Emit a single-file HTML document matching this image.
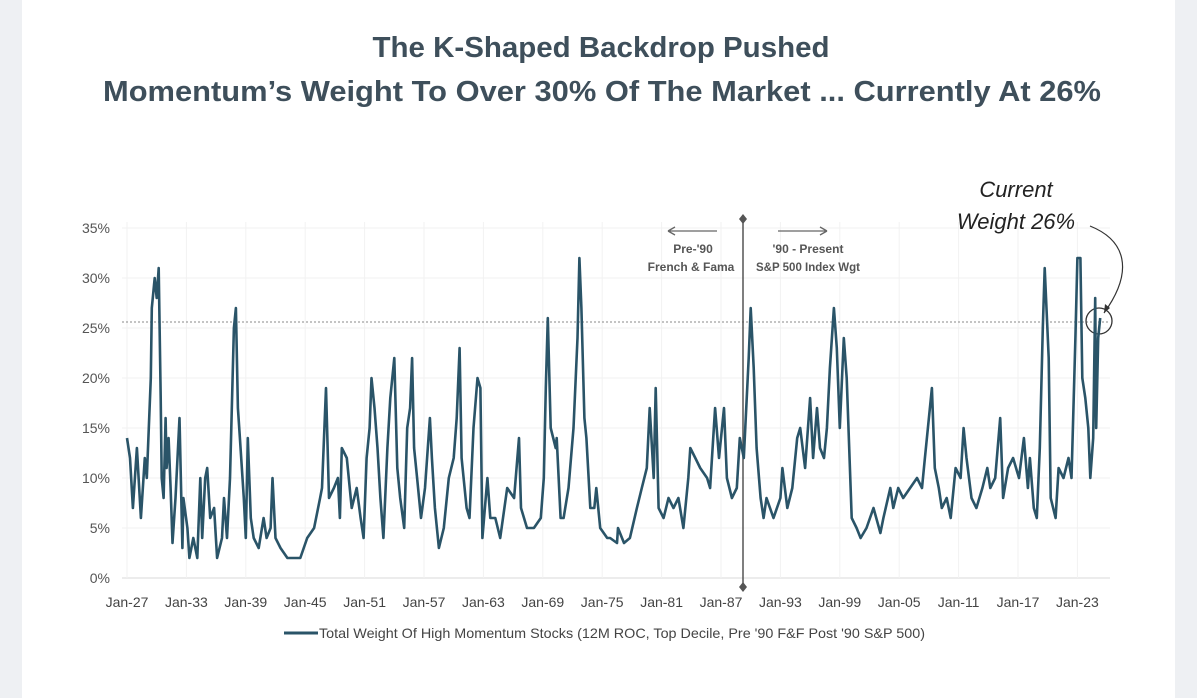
<!DOCTYPE html>
<html><head><meta charset="utf-8"><style>
body{margin:0;background:#eef0f3;}
#card{position:absolute;left:22px;top:0;width:1153px;height:698px;background:#fff;}
svg{position:absolute;left:0;top:0}
</style></head><body>
<div id="card"></div>
<svg id="c" width="1197" height="698">
<text x="601" y="57" text-anchor="middle" textLength="457" lengthAdjust="spacingAndGlyphs" font-family="Liberation Sans, sans-serif" font-weight="bold" font-size="29" fill="#3e4f5b">The K-Shaped Backdrop Pushed</text>
<text x="602" y="101" text-anchor="middle" textLength="998" lengthAdjust="spacingAndGlyphs" font-family="Liberation Sans, sans-serif" font-weight="bold" font-size="29" fill="#3e4f5b">Momentum’s Weight To Over 30% Of The Market ... Currently At 26%</text>
<g id="grid"></g><g id="yt"></g><g id="xt"></g>
<line x1="122" y1="322" x2="1110" y2="322" stroke="#888" stroke-width="1" stroke-dasharray="2,2"/>
<line x1="743" y1="219" x2="743" y2="587" stroke="#555" stroke-width="1.5"/>
<path d="M743 214 L747 219 L743 224 L739 219Z M743 582 L747 587 L743 592 L739 587Z" fill="#555"/>
<text x="693" y="253" text-anchor="middle" font-family="Liberation Sans, sans-serif" font-size="12" font-weight="bold" fill="#555">Pre-'90</text>
<text x="691" y="271" text-anchor="middle" font-family="Liberation Sans, sans-serif" font-size="12" font-weight="bold" fill="#555">French &amp; Fama</text>
<text x="808" y="253" text-anchor="middle" font-family="Liberation Sans, sans-serif" font-size="12" font-weight="bold" fill="#555">'90 - Present</text>
<text x="808" y="271" text-anchor="middle" font-family="Liberation Sans, sans-serif" font-size="11.5" font-weight="bold" fill="#555">S&amp;P 500 Index Wgt</text>
<path d="M668 231 H717 M668 231 l7 -4 M668 231 l7 4 M778 231 H827 M827 231 l-7 -4 M827 231 l-7 4" stroke="#666" stroke-width="1.3" fill="none"/>
<text x="1016" y="197" text-anchor="middle" font-family="Liberation Sans, sans-serif" font-style="italic" font-size="22" fill="#222">Current</text>
<text x="1016" y="229" text-anchor="middle" font-family="Liberation Sans, sans-serif" font-style="italic" font-size="22" fill="#222">Weight 26%</text>
<path d="M1090 226 C1125 240 1135 270 1104 313" stroke="#333" stroke-width="1.2" fill="none"/>
<path d="M1104 313 l1 -9 l5 4Z" fill="#333"/>
<circle cx="1099" cy="321" r="13" stroke="#333" stroke-width="1.3" fill="none"/>
<g id="series"></g>
<line x1="284" y1="633" x2="318" y2="633" stroke="#2a5468" stroke-width="3"/>
<text x="319" y="638" textLength="606" lengthAdjust="spacingAndGlyphs" font-family="Liberation Sans, sans-serif" font-size="14" fill="#444">Total Weight Of High Momentum Stocks (12M ROC, Top Decile, Pre '90 F&amp;F Post '90 S&amp;P 500)</text>
</svg>
<script>
const years=[1927.0,1927.3,1927.6,1928.0,1928.4,1928.8,1929.0,1929.4,1929.5,1929.8,1930.0,1930.2,1930.4,1930.5,1930.7,1930.9,1931.0,1931.2,1931.4,1931.6,1931.9,1932.3,1932.6,1932.7,1933.1,1933.3,1933.7,1934.1,1934.4,1934.6,1934.9,1935.1,1935.4,1935.8,1936.1,1936.6,1936.8,1937.1,1937.4,1937.8,1938.0,1938.2,1938.4,1938.8,1939.0,1939.2,1939.5,1939.8,1940.3,1940.8,1941.1,1941.5,1941.7,1942.0,1942.5,1943.2,1943.8,1944.5,1945.2,1945.9,1946.5,1946.7,1947.1,1947.4,1947.9,1948.3,1948.5,1948.7,1949.2,1949.7,1950.2,1950.6,1950.9,1951.2,1951.5,1951.7,1952.0,1952.3,1952.6,1952.9,1953.3,1953.6,1954.0,1954.3,1954.6,1955.0,1955.3,1955.6,1955.8,1956.0,1956.3,1956.7,1957.1,1957.6,1957.8,1958.1,1958.5,1959.0,1959.5,1960.0,1960.3,1960.6,1960.8,1961.3,1961.6,1962.0,1962.4,1962.7,1962.9,1963.4,1963.7,1964.2,1964.7,1965.4,1966.1,1966.6,1966.8,1967.4,1968.1,1968.8,1969.1,1969.3,1969.5,1969.8,1970.3,1970.4,1970.8,1971.1,1971.6,1972.1,1972.5,1972.7,1972.9,1973.2,1973.4,1973.8,1974.2,1974.4,1974.8,1975.5,1975.8,1976.5,1976.6,1977.2,1977.8,1978.5,1979.0,1979.5,1979.8,1980.2,1980.4,1980.7,1981.2,1981.7,1982.2,1982.7,1983.2,1983.7,1983.9,1984.4,1984.9,1985.6,1985.9,1986.4,1986.8,1987.3,1987.6,1988.1,1988.6,1988.9,1989.3,1989.8,1990.0,1990.3,1990.6,1991.0,1991.3,1991.6,1992.3,1993.0,1993.2,1993.7,1994.2,1994.7,1995.0,1995.5,1996.0,1996.3,1996.7,1997.0,1997.4,1997.7,1998.0,1998.4,1998.7,1999.0,1999.4,1999.7,2000.2,2000.7,2001.1,2001.7,2002.4,2003.1,2003.4,2004.1,2004.4,2004.9,2005.4,2006.1,2006.8,2007.3,2007.6,2008.0,2008.3,2008.6,2009.0,2009.3,2009.8,2010.2,2010.7,2011.2,2011.5,2011.8,2012.3,2012.8,2013.4,2013.9,2014.2,2014.7,2015.2,2015.5,2016.0,2016.5,2017.1,2017.6,2018.0,2018.2,2018.6,2018.9,2019.2,2019.5,2019.7,2020.1,2020.3,2020.8,2021.1,2021.6,2022.1,2022.4,2022.8,2023.0,2023.3,2023.5,2023.8,2024.1,2024.3,2024.6,2024.8,2024.9,2025.1,2025.3];
const weights=[14,12,7,13,6,12,10,20,27,30,28,31,18,10,8,16,11,14,9,3.5,8,16,3,8,5,2,4,2,10,4,10,11,6,7,2,4,8,4,10,25,27,17,14,8,4,14,6,4,3,6,4,5,10,4,3,2,2,2,4,5,8,9,19,8,9,10,6,13,12,7,9,6,4,12,15,20,17,13,8,4,13,18,22,11,8,5,15,17,22,13,10,6,9,16,12,7,3,5,10,12,16,23,12,7,6,15,20,19,4,10,6,6,4,9,8,14,7,5,5,6,10,19,26,15,13,14,6,6,9,15,24,32,27,16,14,7,7,9,5,4,4,3.5,5,3.5,4,7,9,11,17,10,19,7,6,8,7,8,5,10,13,12,11,10,9,17,12,17,10,8,9,14,12,22,27,21,13,8,6,8,6,8,11,7,9,14,15,11,18,12,17,13,12,15,21,27,23,15,24,20,6,5,4,5,7,4.5,6,9,7,9,8,9,10,9,12,16,19,11,9,7,8,6,11,10,15,12,8,7,9,11,9,10,16,8,11,12,10,14,9,12,7,6,13,25,31,22,8,6,11,10,12,10,24,32,32,20,18,15,10,14,28,15,24,26];
const yTicks=[0,5,10,15,20,25,30,35];
const xTickLabels=['Jan-27','Jan-33','Jan-39','Jan-45','Jan-51','Jan-57','Jan-63','Jan-69','Jan-75','Jan-81','Jan-87','Jan-93','Jan-99','Jan-05','Jan-11','Jan-17','Jan-23'];
const xTickYears=[1927,1933,1939,1945,1951,1957,1963,1969,1975,1981,1987,1993,1999,2005,2011,2017,2023];
const NS='http://www.w3.org/2000/svg';
const X=y=>127+(y-1927)*9.9, Y=v=>578-v*10;
function mk(t,a,p){const e=document.createElementNS(NS,t);for(const k in a)e.setAttribute(k,a[k]);p.appendChild(e);return e;}
const g=document.getElementById('grid'),yt=document.getElementById('yt'),xt=document.getElementById('xt'),s=document.getElementById('series');
yTicks.forEach(v=>{
 const l=mk('line',{x1:122,x2:1110,y1:Y(v),y2:Y(v),stroke:v===0?'#d8d8d8':'#f0f0f0','stroke-width':1},g);
 
 
 const t=mk('text',{x:110,y:Y(v)+5,'text-anchor':'end','font-family':'Liberation Sans, sans-serif','font-size':14,fill:'#555'},yt);
 t.textContent=v+'%';
 
 
});
xTickYears.forEach((yr,i)=>{
 const l=mk('line',{x1:X(yr),x2:X(yr),y1:222,y2:578,stroke:'#f2f2f2','stroke-width':1},g);
 
 
 const t=mk('text',{x:X(yr),y:607,'text-anchor':'middle','font-family':'Liberation Sans, sans-serif','font-size':14,fill:'#444'},xt);
 t.textContent=xTickLabels[i];
 
 
});
const d=years.map((yr,i)=>(i?'L':'M')+X(yr).toFixed(1)+' '+Y(weights[i]).toFixed(1)).join(' ');
const p=mk('path',{d:d,fill:'none',stroke:'#2a5468','stroke-width':2.6,'stroke-linejoin':'round'},s);


</script>
</body></html>
